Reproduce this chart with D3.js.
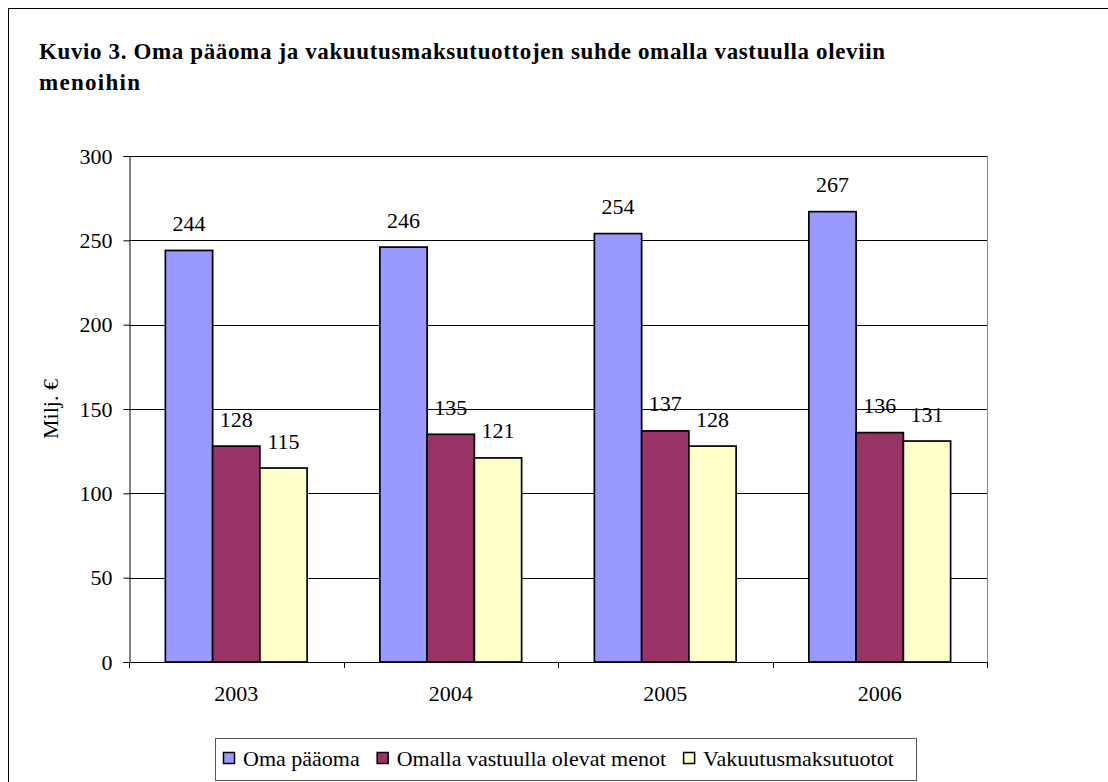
<!DOCTYPE html>
<html><head><meta charset="utf-8">
<script src="https://cdn.jsdelivr.net/npm/d3@7"></script>
<style>body{margin:0;background:#fff}svg{display:block}svg text{font-family:"Liberation Serif","Times New Roman",serif}</style>
</head><body>
<svg id="c" width="1108" height="782"></svg>
<script>
const titleLines = ["Kuvio 3. Oma pääoma ja vakuutusmaksutuottojen suhde omalla vastuulla oleviin", "menoihin"];
const years = ["2003", "2004", "2005", "2006"];
const seriesNames = ["Oma pääoma", "Omalla vastuulla olevat menot", "Vakuutusmaksutuotot"];
const omaPaaoma = [244, 246, 254, 267];
const menot = [128, 135, 137, 136];
const tuotot = [115, 121, 128, 131];
const colors = ["#9999FF", "#993366", "#FFFFCC"];
const yTicks = [0, 50, 100, 150, 200, 250, 300];
const yLabel = "Milj. €";

const series = [omaPaaoma, menot, tuotot];
const svg = d3.select("#c");
const FS = 22;

svg.append("rect").attr("x", 8.5).attr("y", 8.5).attr("width", 1300).attr("height", 1000)
  .attr("fill", "none").attr("stroke", "#000").attr("stroke-width", 1);

const titleWidths = [846, 101];
svg.selectAll("text.title").data(titleLines).enter().append("text")
  .attr("x", 39).attr("y", (d, i) => 59 + i * 31)
  .attr("font-weight", "bold").attr("font-size", 23)
  .attr("fill", "#000").text(d => d)
  .attr("textLength", (d, i) => titleWidths[i]).attr("lengthAdjust", "spacing");

const pL = 129, pR = 987, pT = 156, pB = 662;
const x = d3.scaleBand().domain(years).range([pL, pR]).paddingInner(0).paddingOuter(0);
const y = d3.scaleLinear().domain([0, 300]).range([pB, pT]);
const inner = d3.scaleBand().domain(d3.range(3)).range([0, x.bandwidth()]).paddingInner(0).paddingOuter(0.77);

// grid
svg.append("g").selectAll("line").data(yTicks.filter(t => t > 0)).enter().append("line")
  .attr("x1", pL).attr("x2", pR).attr("y1", d => Math.round(y(d)) + 0.5).attr("y2", d => Math.round(y(d)) + 0.5)
  .attr("stroke", "#000").attr("stroke-width", 1);
svg.append("line").attr("x1", pR + 0.5).attr("x2", pR + 0.5).attr("y1", pT).attr("y2", pB + 5)
  .attr("stroke", "#888").attr("stroke-width", 1);

// y axis
const yAxis = d3.axisLeft(y).tickValues(yTicks).tickSize(6).tickPadding(11);
const gy = svg.append("g").attr("transform", `translate(${pL + 0.5},0)`).call(yAxis);
gy.attr("font-family", null);
gy.select(".domain").attr("stroke", "#000");
gy.selectAll(".tick line").attr("stroke", "#000");
gy.selectAll("text").attr("font-size", FS).attr("fill", "#000");

// bars
const groups = svg.append("g").selectAll("g").data(years).enter().append("g")
  .attr("transform", d => `translate(${x(d)},0)`);
groups.selectAll("rect").data((d, i) => series.map((s, k) => ({k, v: s[i]}))).enter().append("rect")
  .attr("x", d => inner(d.k)).attr("width", inner.bandwidth())
  .attr("y", d => y(d.v)).attr("height", d => pB - y(d.v))
  .attr("fill", d => colors[d.k]).attr("stroke", "#000").attr("stroke-width", 1.7);
groups.selectAll("text").data((d, i) => series.map((s, k) => ({k, v: s[i]}))).enter().append("text")
  .attr("x", d => inner(d.k) + inner.bandwidth() / 2).attr("y", d => y(d.v) - 19.5)
  .attr("text-anchor", "middle").attr("font-size", FS).attr("fill", "#000")
  .text(d => d.v);

// x axis
const xAxis = d3.axisBottom(x).tickSize(0).tickPadding(0);
const gx = svg.append("g").attr("transform", `translate(0,${pB + 0.5})`).call(xAxis);
gx.attr("font-family", null);
gx.select(".domain").attr("stroke", "#000").attr("d", `M${pL},0H${pR}`);
gx.selectAll(".tick line").remove();
gx.selectAll("text").attr("font-size", FS).attr("fill", "#000")
  .attr("dy", null).attr("y", 38);
svg.append("g").selectAll("line").data(d3.range(years.length + 1)).enter().append("line")
  .attr("x1", i => Math.round(pL + i * x.bandwidth()) + 0.5).attr("x2", i => Math.round(pL + i * x.bandwidth()) + 0.5)
  .attr("y1", pB).attr("y2", pB + 6).attr("stroke", "#000");

// y label
svg.append("text").attr("transform", `translate(58,${(pT + pB) / 2}) rotate(-90)`)
  .attr("text-anchor", "middle").attr("font-size", FS).attr("fill", "#000")
  .text(yLabel);

// legend
const lg = svg.append("g");
lg.append("rect").attr("x", 215.5).attr("y", 738.5).attr("width", 701).attr("height", 42)
  .attr("fill", "#fff").attr("stroke", "#555").attr("stroke-width", 1);
let lx = 223;
seriesNames.forEach((n, k) => {
  lg.append("rect").attr("x", lx + 0.5).attr("y", 752.5).attr("width", 11).attr("height", 11)
    .attr("fill", colors[k]).attr("stroke", "#000").attr("stroke-width", 1.5);
  const t = lg.append("text").attr("x", lx + 20).attr("y", 766).attr("font-size", FS)
    .attr("fill", "#000").text(n);
  lx += 20 + t.node().getComputedTextLength() + 17;
});
</script>
</body></html>
